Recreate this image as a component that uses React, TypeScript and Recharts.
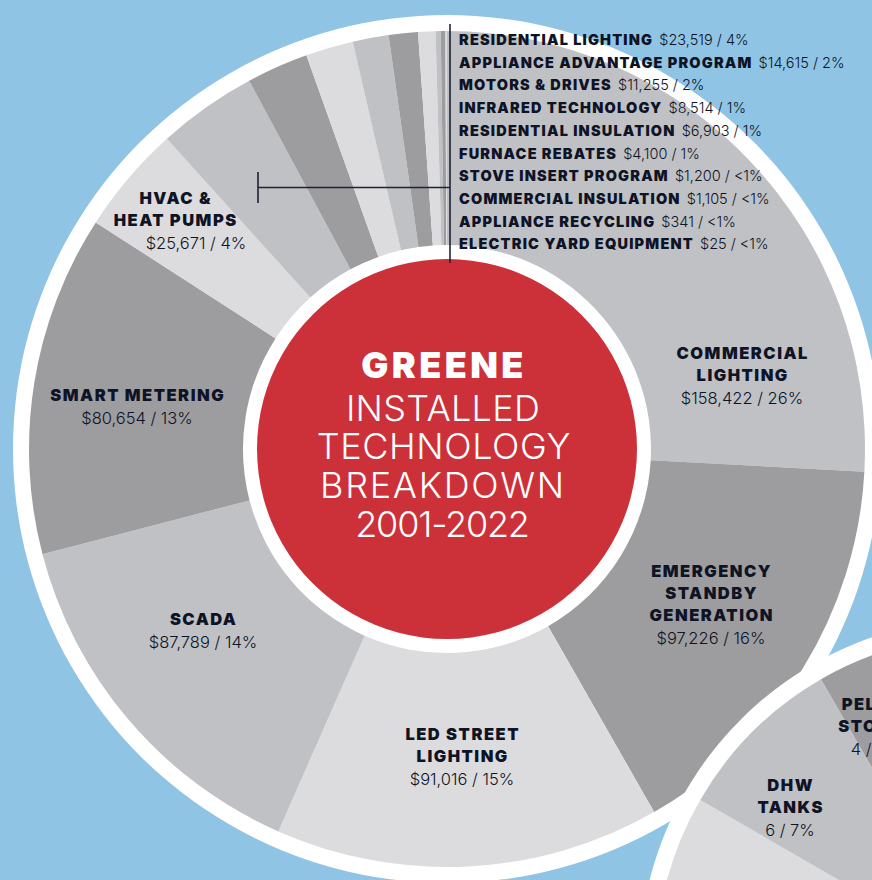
import { PieChart, Pie, Cell } from "recharts";

document.body.style.margin = "0";

// main ring, clockwise from 12 o'clock
const techNames = [
  "COMMERCIAL LIGHTING",
  "EMERGENCY STANDBY GENERATION",
  "LED STREET LIGHTING",
  "SCADA",
  "SMART METERING",
  "HVAC & HEAT PUMPS",
  "RESIDENTIAL LIGHTING",
  "APPLIANCE ADVANTAGE PROGRAM",
  "MOTORS & DRIVES",
  "INFRARED TECHNOLOGY",
  "RESIDENTIAL INSULATION",
  "FURNACE REBATES",
  "STOVE INSERT PROGRAM",
  "COMMERCIAL INSULATION",
  "APPLIANCE RECYCLING",
  "ELECTRIC YARD EQUIPMENT",
];
const techValues = [158422, 97226, 91016, 87789, 80654, 25671, 23519, 14615, 11255, 8514, 6903, 4100, 1200, 1105, 341, 25];
const techPct = ["26%", "16%", "15%", "14%", "13%", "4%", "4%", "2%", "2%", "1%", "1%", "1%", "<1%", "<1%", "<1%", "<1%"];

// second ring (mostly off the page)
const c2Names = ["", "", "", "", "", "DHW TANKS", "PELLET STOVES", ""];
const c2Values = [18, 15, 12, 9, 6, 6, 4, 2];
const c2Pct = ["", "", "", "", "", "7%", "5%", ""];

const greys = ["#bfc1c5", "#9d9d9f", "#dcdcde"];
const BLUE = "#8fc4e4";
const RED = "#cc3039";
const INK = "#0e1326";
const FONT = "Inter, 'Open Sans', sans-serif";

const mainData = techNames.map((name, i) => ({ name, value: techValues[i] }));
const c2Data = c2Names.map((name, i) => ({ name, value: c2Values[i] }));
const fmt = (v: number) => "$" + v.toLocaleString("en-US");

function Block({ x, y, lines, value, vx }: { x: number; y: number; lines: string[]; value: string; vx?: number }) {
  return (
    <g>
      {lines.map((l, i) => (
        <text key={i} x={x + 0.7} y={y + i * 22} textAnchor="middle" fontFamily={FONT} fontWeight={900} fontSize={16.5} letterSpacing={1.5} fill={INK}>
          {l}
        </text>
      ))}
      <text x={vx ?? x} y={y + lines.length * 22 + 1} textAnchor="middle" fontFamily={FONT} fontWeight={300} fontSize={16.5} fill={INK}>
        {value}
      </text>
    </g>
  );
}

export default function App() {
  const v = (i: number) => `${fmt(techValues[i])} / ${techPct[i]}`;
  const small = techNames.slice(6);
  return (
    <div style={{ position: "relative", width: 872, height: 880, background: BLUE, overflow: "hidden" }}>
      <PieChart width={872} height={880} style={{ position: "absolute", left: 0, top: 0 }}>
        <Pie data={[{ value: 1 }]} dataKey="value" cx={442} cy={444} outerRadius={434} innerRadius={0} stroke="none" fill="#fff" isAnimationActive={false} />
        <Pie data={mainData} dataKey="value" cx={442} cy={444} innerRadius={204} outerRadius={418} startAngle={90} endAngle={-270} stroke="none" isAnimationActive={false}>
          {mainData.map((d, i) => (
            <Cell key={d.name} fill={greys[i % 3]} />
          ))}
        </Pie>
        <Pie data={[{ value: 1 }]} dataKey="value" cx={442} cy={444} outerRadius={190} innerRadius={0} stroke="none" fill={RED} isAnimationActive={false} />
        <Pie data={[{ value: 1 }]} dataKey="value" cx={981} cy={960} outerRadius={347} innerRadius={0} stroke="none" fill="#fff" isAnimationActive={false} />
        <Pie data={c2Data} dataKey="value" cx={981} cy={960} innerRadius={0} outerRadius={330} startAngle={90} endAngle={-270} stroke="none" isAnimationActive={false}>
          {c2Data.map((d, i) => (
            <Cell key={i} fill={greys[(i + 1) % 3]} />
          ))}
        </Pie>
      </PieChart>
      <svg width={872} height={880} style={{ position: "absolute", left: 0, top: 0, pointerEvents: "none" }}>
        <g textAnchor="middle" fill="#fff" fontFamily={FONT}>
          <text x={444} y={378} fontSize={36} fontWeight={900} letterSpacing={3.4}>GREENE</text>
          <text x={443} y={421} fontSize={36} fontWeight={300} letterSpacing={0.3}>INSTALLED</text>
          <text x={444} y={459} fontSize={36} fontWeight={300} letterSpacing={0.6}>TECHNOLOGY</text>
          <text x={443} y={498} fontSize={36} fontWeight={300} letterSpacing={1.7}>BREAKDOWN</text>
          <text x={442} y={537} fontSize={36} fontWeight={300} letterSpacing={-1.2}>2001-2022</text>
        </g>

        <Block x={742} y={359} lines={["COMMERCIAL", "LIGHTING"]} value={v(0)} />
        <Block x={711} y={577} lines={["EMERGENCY", "STANDBY", "GENERATION"]} value={v(1)} />
        <Block x={462} y={740} lines={["LED STREET", "LIGHTING"]} value={v(2)} />
        <Block x={203} y={625} lines={["SCADA"]} value={v(3)} />
        <Block x={137} y={401} lines={["SMART METERING"]} value={v(4)} />
        <Block x={175} y={204} lines={["HVAC &", "HEAT PUMPS"]} value={v(5)} vx={196} />

        <Block x={790} y={791} lines={["DHW", "TANKS"]} value={`${c2Values[5]} / ${c2Pct[5]}`} />
        <Block x={876} y={710} lines={["PELLET", "STOVES"]} value={`${c2Values[6]} / ${c2Pct[6]}`} />

        <line x1={450} y1={24} x2={450} y2={263} stroke="#1d2235" strokeWidth={1.6} />
        <line x1={258} y1={187.5} x2={450} y2={187.5} stroke="#1d2235" strokeWidth={1.6} />
        <line x1={258} y1={172} x2={258} y2={203} stroke="#1d2235" strokeWidth={1.6} />

        {small.map((n, i) => (
          <text key={n} x={459} y={45 + i * 22.7} fontFamily={FONT} fontSize={14.5} fill={INK}>
            <tspan fontWeight={900} letterSpacing={1.2}>{n}</tspan>
            <tspan fontWeight={300} dx={6}>{v(i + 6)}</tspan>
          </text>
        ))}
      </svg>
    </div>
  );
}
